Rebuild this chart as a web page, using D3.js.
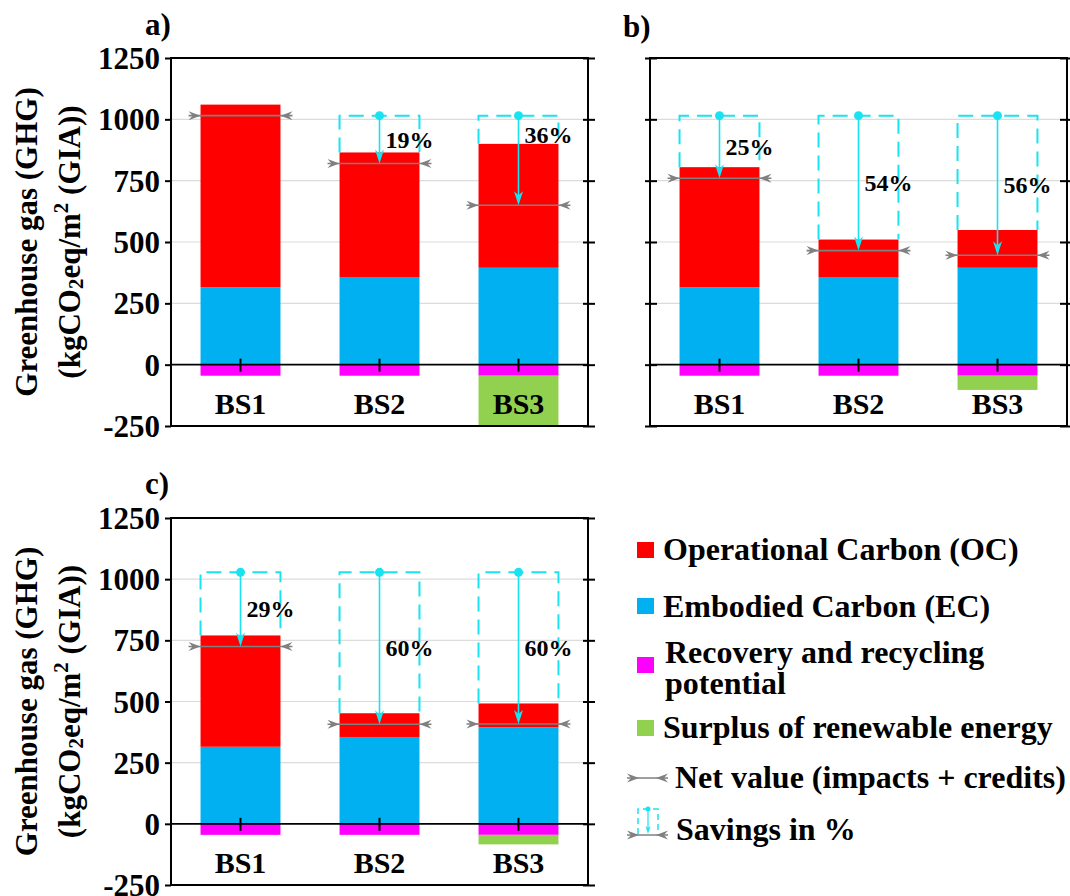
<!DOCTYPE html>
<html>
<head>
<meta charset="utf-8">
<script src="https://cdn.jsdelivr.net/npm/d3@7"></script>
<style>
  body { margin: 0; background: #fff; }
  svg { display: block; }
</style>
</head>
<body>
<svg id="chart" width="1070" height="896"></svg>
<script>
// ---- data (kgCO2eq/m2 GIA) ----
const categories = ["BS1", "BS2", "BS3"];

// a)
const ecA  = [315, 355, 395];
const ocA  = [745, 510, 505];
const recA = [-45, -45, -45];
const surA = [0, 0, -205];
const baseA = 1015;
const savingsShownA = [false, true, true];

// b)
const ecB  = [315, 355, 395];
const ocB  = [490, 155, 154];
const recB = [-45, -45, -45];
const surB = [0, 0, -58];
const baseB = 1015;
const savingsShownB = [true, true, true];

// c)
const ecC  = [315, 355, 395];
const ocC  = [455, 97, 97];
const recC = [-45, -45, -45];
const surC = [0, 0, -39];
const baseC = 1028;
const savingsShownC = [true, true, true];

const yTicks = [-250, 0, 250, 500, 750, 1000, 1250];
const gridTicks = [250, 500, 750, 1000];
const yDomain = [-250, 1250];

const seriesKeys = ["ec", "oc", "rec", "sur"];
const legendLabels = [
  ["Operational Carbon (OC)"],
  ["Embodied Carbon (EC)"],
  ["Recovery and recycling", "potential"],
  ["Surplus of renewable energy"]
];
const legendKeys = ["oc", "ec", "rec", "sur"];
const netLabel = "Net value (impacts + credits)";
const savingsLabel = "Savings in %";

// ---- styles ----
const FONT = '"Liberation Serif"';
const colors = { oc: "#ff0000", ec: "#00b0f0", rec: "#ff00ff", sur: "#92d050" };
const cyan = "#19e3f0";
const grey = "#808080";

const svg = d3.select("#chart");
svg.append("rect").attr("width", 1070).attr("height", 896).attr("fill", "#fff");

function styleText(sel) {
  return sel.style("font-family", FONT).attr("font-weight", "bold").attr("fill", "#000");
}
function txt(parent) {
  return styleText(parent.append("text"));
}

const panels = [
  { key: "a", title: "a)", ec: ecA, oc: ocA, rec: recA, sur: surA, base: baseA, shown: savingsShownA,
    frame: { x0: 171, x1: 588, y0: 58, y1: 426 }, tickLabels: true,
    leftTick: { out: 6, inn: 0 }, rightTick: { inn: 5, out: 7 }, titlePos: [145, 35] },
  { key: "b", title: "b)", ec: ecB, oc: ocB, rec: recB, sur: surB, base: baseB, shown: savingsShownB,
    frame: { x0: 650, x1: 1067, y0: 58, y1: 426 }, tickLabels: false,
    leftTick: { out: 5, inn: 7 }, rightTick: { inn: 7, out: 7 }, titlePos: [623, 37] },
  { key: "c", title: "c)", ec: ecC, oc: ocC, rec: recC, sur: surC, base: baseC, shown: savingsShownC,
    frame: { x0: 171, x1: 588, y0: 518, y1: 885 }, tickLabels: true,
    leftTick: { out: 6, inn: 0 }, rightTick: { inn: 5, out: 7 }, titlePos: [145, 494] }
];

// chevron at the ends of the net-value line; dir = +1 points right, -1 points left
function netEnd(x, y, dir) {
  return `M${x},${y - 4.5}L${x + dir * 12},${y}L${x},${y + 4.5}L${x + dir * 4},${y}Z`;
}

function drawNetLine(g, xl, xr, y) {
  g.append("line").attr("x1", xl).attr("x2", xr).attr("y1", y).attr("y2", y)
    .attr("stroke", grey).attr("stroke-width", 1.6);
  g.append("path").attr("d", netEnd(xl, y, 1)).attr("fill", grey);
  g.append("path").attr("d", netEnd(xr, y, -1)).attr("fill", grey);
}

function drawSavingsArrow(g, cx, yTop, yTip) {
  g.append("line").attr("x1", cx).attr("x2", cx).attr("y1", yTop).attr("y2", yTip - 9)
    .attr("stroke", cyan).attr("stroke-width", 1.6);
  g.append("path")
    .attr("d", `M${cx},${yTip}L${cx - 4.5},${yTip - 14}L${cx},${yTip - 10}L${cx + 4.5},${yTip - 14}Z`)
    .attr("fill", cyan);
  g.append("circle").attr("cx", cx).attr("cy", yTop).attr("r", 4.5).attr("fill", cyan);
}

panels.forEach(p => {
  const f = p.frame;
  const g = svg.append("g").attr("class", "panel-" + p.key);

  const x = d3.scaleBand().domain(categories).range([f.x0, f.x1])
    .paddingInner(0.425).paddingOuter(0.2125);
  const y = d3.scaleLinear().domain(yDomain).range([f.y1, f.y0]);

  const rows = categories.map((c, i) => ({
    cat: c, ec: p.ec[i], oc: p.oc[i], rec: p.rec[i], sur: p.sur[i]
  }));
  const stacked = d3.stack().keys(seriesKeys).offset(d3.stackOffsetDiverging)(rows);

  // gridlines
  g.append("g").selectAll("line").data(gridTicks).join("line")
    .attr("x1", f.x0).attr("x2", f.x1)
    .attr("y1", d => y(d)).attr("y2", d => y(d))
    .attr("stroke", "#dcdcdc").attr("stroke-width", 1.2);

  // clip to the plot frame
  const clipId = "clip-" + p.key;
  g.append("clipPath").attr("id", clipId).append("rect")
    .attr("x", f.x0).attr("y", f.y0).attr("width", f.x1 - f.x0).attr("height", f.y1 - f.y0);

  // stacked bars
  g.append("g").attr("clip-path", `url(#${clipId})`)
    .selectAll("g").data(stacked).join("g")
    .attr("fill", s => colors[s.key])
    .selectAll("rect").data(s => s).join("rect")
    .attr("x", d => x(d.data.cat))
    .attr("width", x.bandwidth())
    .attr("y", d => y(Math.max(d[0], d[1])))
    .attr("height", d => Math.abs(y(d[0]) - y(d[1])));

  // frame
  g.append("rect").attr("x", f.x0).attr("y", f.y0)
    .attr("width", f.x1 - f.x0).attr("height", f.y1 - f.y0)
    .attr("fill", "none").attr("stroke", "#000").attr("stroke-width", 2);

  // zero line
  g.append("line").attr("x1", f.x0).attr("x2", f.x1).attr("y1", y(0)).attr("y2", y(0))
    .attr("stroke", "#000").attr("stroke-width", 1.8);

  // left value axis (plain hyphen for negatives)
  const leftAxis = d3.axisLeft(y).tickValues(yTicks).tickSize(p.leftTick.out).tickPadding(5)
    .tickFormat(p.tickLabels ? (d => String(d)) : "");
  const la = g.append("g").attr("transform", `translate(${f.x0},0)`).call(leftAxis);
  la.attr("font-family", null).attr("font-size", null);
  la.select(".domain").remove();
  la.selectAll(".tick line").attr("stroke", "#000").attr("stroke-width", 2)
    .attr("x2", -p.leftTick.out).attr("x1", p.leftTick.inn);
  styleText(la.selectAll(".tick text")).attr("font-size", 31).attr("dy", "0.34em");

  // right axis ticks
  const ra = g.append("g").attr("transform", `translate(${f.x1},0)`)
    .call(d3.axisRight(y).tickValues(yTicks).tickSize(p.rightTick.out).tickFormat(""));
  ra.select(".domain").remove();
  ra.selectAll(".tick line").attr("stroke", "#000").attr("stroke-width", 2)
    .attr("x1", -p.rightTick.inn);

  // category ticks crossing the zero line
  g.append("g").selectAll("line").data(categories).join("line")
    .attr("x1", c => x(c) + x.bandwidth() / 2).attr("x2", c => x(c) + x.bandwidth() / 2)
    .attr("y1", y(0) - 6).attr("y2", y(0) + 7)
    .attr("stroke", "#000").attr("stroke-width", 2);

  // category labels
  styleText(g.append("g").selectAll("text").data(categories).join("text"))
    .attr("x", c => x(c) + x.bandwidth() / 2).attr("y", y(0) + 49)
    .attr("text-anchor", "middle").attr("font-size", 30).text(c => c);

  // savings boxes, arrows, net values
  const ann = g.append("g");
  rows.forEach((r, i) => {
    const xl = x(r.cat), xr = xl + x.bandwidth(), cx = xl + x.bandwidth() / 2;
    const total = r.ec + r.oc;
    const net = r.ec + r.oc + r.rec + r.sur;
    const yNet = y(net), yTop = y(total), yBase = y(p.base);
    if (p.shown[i]) {
      ann.append("path")
        .attr("d", `M${xl},${yTop}V${yBase}H${xr}V${yTop}`)
        .attr("fill", "none").attr("stroke", cyan).attr("stroke-width", 2)
        .attr("stroke-dasharray", "15,8");
    }
    drawNetLine(ann, xl - 12, xr + 12, yNet);
    if (p.shown[i]) {
      drawSavingsArrow(ann, cx, yBase, yNet);
      const pct = Math.round((1 - net / p.base) * 100);
      const ly = Math.min((yBase + yNet) / 2 + 8, yTop - 1);
      txt(ann).attr("x", cx + 6).attr("y", ly).attr("font-size", 24).text(pct + "%");
    }
  });

  // panel letter
  txt(svg).attr("x", p.titlePos[0]).attr("y", p.titlePos[1]).attr("font-size", 31).text(p.title);

  // y-axis title (panels a and c)
  if (p.tickLabels) {
    const cy = (f.y0 + f.y1) / 2;
    txt(svg).attr("transform", `translate(37,${cy}) rotate(-90)`)
      .attr("text-anchor", "middle").attr("font-size", 31).text("Greenhouse gas (GHG)");
    const t2 = txt(svg).attr("transform", `translate(80,${cy}) rotate(-90)`)
      .attr("text-anchor", "middle").attr("font-size", 31);
    t2.append("tspan").text("(kgCO");
    t2.append("tspan").attr("font-size", 21).attr("dy", 3).text("2");
    t2.append("tspan").attr("dy", -3).text("eq/m");
    t2.append("tspan").attr("font-size", 21).attr("dy", -12).text("2");
    t2.append("tspan").attr("dy", 12).text(" (GIA))");
  }
});

// ---- legend ----
const lg = svg.append("g").attr("class", "legend");
const swatchY = [542, 598, 657, 720];
const textY = [[560], [617], [663, 694], [738]];
legendKeys.forEach((k, i) => {
  lg.append("rect").attr("x", 637).attr("y", swatchY[i]).attr("width", 17).attr("height", 16)
    .attr("fill", colors[k]);
  legendLabels[i].forEach((line, j) => {
    txt(lg).attr("x", i === 2 ? 665 : 663).attr("y", textY[i][j])
      .attr("font-size", 32).text(line);
  });
});
drawNetLine(lg, 627, 668, 778);
txt(lg).attr("x", 675).attr("y", 788).attr("font-size", 32).text(netLabel);

// savings icon
lg.append("path").attr("d", "M638,834V809H658V834")
  .attr("fill", "none").attr("stroke", cyan).attr("stroke-width", 1.5)
  .attr("stroke-dasharray", "6,4");
lg.append("line").attr("x1", 648).attr("x2", 648).attr("y1", 809).attr("y2", 829)
  .attr("stroke", cyan).attr("stroke-width", 1.2);
lg.append("path").attr("d", "M648,834L645.5,826L648,828L650.5,826Z").attr("fill", cyan);
lg.append("circle").attr("cx", 648).attr("cy", 809).attr("r", 2.5).attr("fill", cyan);
drawNetLine(lg, 627, 668, 835);
txt(lg).attr("x", 676).attr("y", 840).attr("font-size", 32).text(savingsLabel);
</script>
</body>
</html>
